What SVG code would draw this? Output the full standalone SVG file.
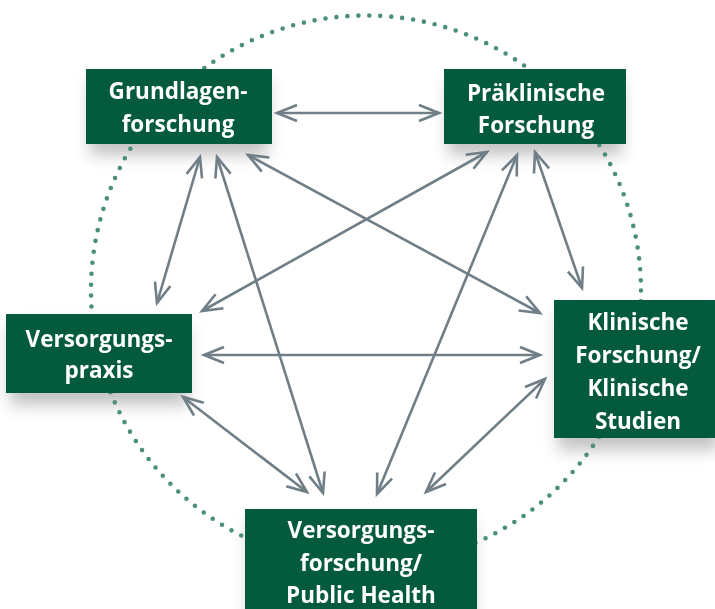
<svg xmlns="http://www.w3.org/2000/svg" width="715" height="609" viewBox="0 0 715 609">
<style>
.box{fill:#035a3c}
.lbl{font-family:"Open Sans","Noto Sans","DejaVu Sans",sans-serif;font-weight:700;font-size:22.5px;fill:#ffffff;text-anchor:middle}
.arr{fill:none;stroke:#6f7e87;stroke-width:2.6;marker-start:url(#ah);marker-end:url(#ah)}
.shd{fill:#000;opacity:0.24}
</style>
<defs>
<filter id="blur" x="-30%" y="-30%" width="160%" height="160%"><feGaussianBlur stdDeviation="8"/></filter>
<marker id="ah" viewBox="-24 -12 28 24" refX="0" refY="0" markerWidth="28" markerHeight="24" markerUnits="userSpaceOnUse" orient="auto-start-reverse">
<path d="M-20,-8 L0,0 L-20,8" fill="none" stroke="#6f7e87" stroke-width="2.6"/>
</marker>
</defs>
<rect width="715" height="609" fill="#ffffff"/>
<g id="shadows" filter="url(#blur)">
<rect class="shd" x="90" y="80" width="178" height="75"/>
<rect class="shd" x="448" y="80" width="174" height="75"/>
<rect class="shd" x="10" y="326" width="178" height="79"/>
<rect class="shd" x="558" y="312" width="160" height="138"/>
<rect class="shd" x="249" y="521" width="224" height="100"/>
</g>
<circle id="ring" cx="366" cy="290.5" r="275" fill="none" stroke="#4b8f74" stroke-width="4.6" stroke-linecap="round" stroke-dasharray="0 11.006"/>
<g id="connectors">
<line class="arr" x1="277" y1="113" x2="439" y2="113"/>
<line class="arr" x1="200" y1="157" x2="157" y2="303"/>
<line class="arr" x1="217" y1="157" x2="323" y2="493"/>
<line class="arr" x1="248" y1="155" x2="540" y2="313"/>
<line class="arr" x1="487" y1="152" x2="202" y2="311"/>
<line class="arr" x1="517" y1="155" x2="377" y2="494"/>
<line class="arr" x1="535" y1="152" x2="582" y2="288"/>
<line class="arr" x1="204" y1="355" x2="540" y2="355"/>
<line class="arr" x1="183" y1="397" x2="307" y2="492"/>
<line class="arr" x1="426" y1="492" x2="545" y2="379"/>
</g>
<g id="grundlagen">
<rect class="box" x="86" y="69" width="186" height="75"/>
<text class="lbl" x="178" y="99">Grundlagen-</text>
<text class="lbl" x="178" y="132">forschung</text>
</g>
<g id="praeklinisch">
<rect class="box" x="444" y="69" width="182" height="75"/>
<text class="lbl" x="536" y="101">Präklinische</text>
<text class="lbl" x="536" y="133">Forschung</text>
</g>
<g id="versorgungspraxis">
<rect class="box" x="6" y="314" width="186" height="79"/>
<text class="lbl" x="99" y="347">Versorgungs-</text>
<text class="lbl" x="99" y="378">praxis</text>
</g>
<g id="klinisch">
<rect class="box" x="554" y="300" width="168" height="138"/>
<text class="lbl" x="638" y="330">Klinische</text>
<text class="lbl" x="638" y="363">Forschung/</text>
<text class="lbl" x="638" y="396">Klinische</text>
<text class="lbl" x="638" y="429">Studien</text>
</g>
<g id="versorgungsforschung">
<rect class="box" x="245" y="509" width="232" height="110"/>
<text class="lbl" x="361" y="538">Versorgungs-</text>
<text class="lbl" x="361" y="571">forschung/</text>
<text class="lbl" x="361" y="603">Public Health</text>
</g>
</svg>
